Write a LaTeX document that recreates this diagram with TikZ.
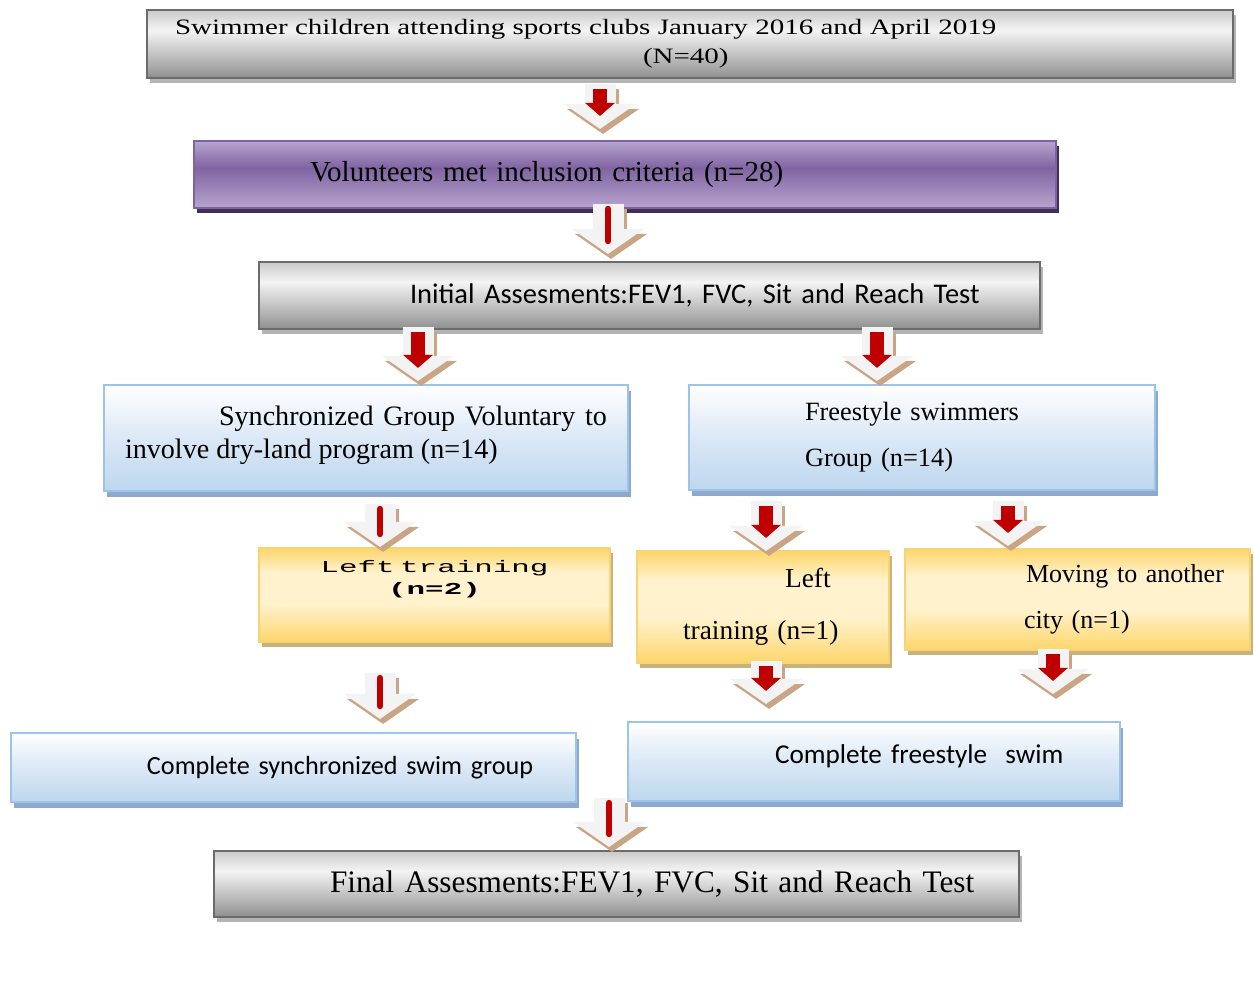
\documentclass[tikz,border=0pt]{standalone}
\usepackage{fontspec}
\setmainfont{Liberation Serif}
\newfontfamily\calibrifont{Carlito}
\newfontfamily\widemono[FakeStretch=1.85]{Liberation Mono}
\newfontfamily\widetimes[FakeStretch=1.32]{Liberation Serif}
\usetikzlibrary{arrows.meta,calc,shadows}
\definecolor{grayEdge}{HTML}{6B6B6B}
\definecolor{grayDrop}{HTML}{B4B4B4}
\definecolor{grayTop}{HTML}{CACACA}
\definecolor{grayMid}{HTML}{F4F4F4}
\definecolor{grayLow}{HTML}{8E8E8E}
\definecolor{purpleEdge}{HTML}{7E62A1}
\definecolor{purpleDrop}{HTML}{3F3151}
\definecolor{purpleLight}{HTML}{B7A5CF}
\definecolor{purpleDark}{HTML}{8064A2}
\definecolor{blueEdge}{HTML}{9DC3E6}
\definecolor{blueDrop}{HTML}{8EA9CF}
\definecolor{blueLow}{HTML}{BDD7EE}
\definecolor{blueMid}{HTML}{DBE8F6}
\definecolor{yellowEdge}{HTML}{F6D475}
\definecolor{yellowDrop}{HTML}{C9B27A}
\definecolor{yellowDeep}{HTML}{FDD56A}
\definecolor{yellowPale}{HTML}{FFF2CC}
\definecolor{arrowRed}{HTML}{C00000}
\definecolor{arrowTan}{HTML}{C9A585}
\definecolor{arrowWhite}{HTML}{F3F3F3}
\pgfdeclareverticalshading{grayShade}{100bp}{color(0bp)=(grayLow); color(25bp)=(grayLow); color(32bp)=(grayLow!80!white); color(60bp)=(grayMid); color(75bp)=(grayTop); color(100bp)=(grayTop)}
\pgfdeclareverticalshading{purpleShade}{100bp}{color(0bp)=(purpleLight); color(25bp)=(purpleLight); color(55bp)=(purpleDark); color(75bp)=(purpleLight); color(100bp)=(purpleLight)}
\pgfdeclareverticalshading{blueShade}{100bp}{color(0bp)=(blueLow); color(25bp)=(blueLow); color(50bp)=(blueMid); color(75bp)=(white); color(100bp)=(white)}
\pgfdeclareverticalshading{yellowShade}{100bp}{color(0bp)=(yellowDeep); color(25bp)=(yellowDeep); color(45bp)=(yellowPale); color(62bp)=(yellowPale); color(75bp)=(yellowDeep); color(100bp)=(yellowDeep)}
\tikzset{
  gray box/.style={draw=grayEdge,line width=1.2pt,shade,shading=grayShade,drop shadow={shadow xshift=0.06cm,shadow yshift=-0.1cm,fill=grayDrop,opacity=1},inner sep=0pt,align=left},
  purple box/.style={draw=purpleEdge,line width=1.2pt,shade,shading=purpleShade,drop shadow={shadow xshift=0.06cm,shadow yshift=-0.1cm,fill=purpleDrop,opacity=1},inner sep=0pt,align=left},
  blue box/.style={draw=blueEdge,line width=1.2pt,shade,shading=blueShade,drop shadow={shadow xshift=0.06cm,shadow yshift=-0.12cm,fill=blueDrop,opacity=1},inner sep=0pt,align=left},
  yellow box/.style={draw=yellowEdge,line width=1.2pt,shade,shading=yellowShade,drop shadow={shadow xshift=0.06cm,shadow yshift=-0.1cm,fill=yellowDrop,opacity=1},inner sep=0pt,align=left},
  flow shadow/.style={line width=0.62cm,draw=arrowTan,-{Triangle[length=0.5cm,width=1.42cm]}},
  flow body/.style={line width=0.62cm,draw=arrowWhite,-{Triangle[length=0.5cm,width=1.42cm]}},
  flow core/.style={line width=0.28cm,draw=arrowRed,-{Triangle[length=0.26cm,width=0.58cm]}},
  flow bar/.style={line width=0.13cm,draw=arrowRed,line cap=round}
}
% block arrow: tan shadow, white body, red core
\newcommand{\flowarrow}[3][flow core]{%
  \draw[flow shadow] ($(#2)+(0.06,-0.1)$) -- ($(#3)+(0.06,-0.1)$);
  \draw[flow body] (#2) -- (#3);
  \draw[#1] ($(#2)+(0,-0.1)$) -- ($(#3)+(0,0.26)$);
}
\begin{document}
\begin{tikzpicture}
  \useasboundingbox (0,0) rectangle (25.08,-19.74);

  \node[gray box,text width=21.72cm,minimum height=1.36cm,font=\widetimes\fontsize{12.5}{16.4}\selectfont] (top) at (13.8,-0.88)
    {\hspace*{0.56cm}Swimmer children attending sports clubs January 2016 and April 2019\\\hspace*{9.92cm}(N=40)};
  \node[purple box,text width=17.24cm,minimum height=1.34cm,font=\fontsize{16.5}{19}\selectfont] (volunteers) at (12.5,-3.49)
    {\hspace*{2.32cm}Volunteers met inclusion criteria (n=28)};
  \node[gray box,text width=15.62cm,minimum height=1.34cm,font=\calibrifont\fontsize{16.2}{19}\selectfont] (initial) at (12.99,-5.91)
    {\hspace*{3.02cm}Initial Assesments:FEV1, FVC, Sit and Reach Test};

  \node[blue box,text width=9.64cm,inner xsep=0.42cm,minimum height=2.12cm,align=justify,font=\fontsize{16}{18.7}\selectfont] (sync) at (7.32,-8.76)
    {\hspace*{1.88cm}Synchronized Group Voluntary to\linebreak involve dry-land program (n=14)\\[-0.42cm]\mbox{}};
  \node[blue box,text width=9.32cm,minimum height=2.10cm,font=\fontsize{15}{17}\selectfont] (free) at (18.44,-8.75)
    {\hspace*{2.32cm}Freestyle swimmers\\[0.32cm]\hspace*{2.32cm}Group (n=14)};

  \node[yellow box,text width=7.02cm,minimum height=1.88cm,align=center,font=\widemono\fontsize{9.5}{12.5}\selectfont] (leftsync) at (8.69,-11.9)
    {Left training\\\textbf{(n=2)}\\[0.28cm]\mbox{}};
  \node[yellow box,text width=5.04cm,minimum height=2.24cm,font=\fontsize{15.6}{17}\selectfont] (leftfree) at (15.26,-12.14)
    {\hspace*{2.96cm}Left\\[0.44cm]\hspace*{0.92cm}training (n=1)};
  \node[yellow box,text width=6.9cm,minimum height=2.02cm,font=\fontsize{14.8}{17}\selectfont] (moving) at (21.55,-11.99)
    {\hspace*{2.42cm}Moving to another\\[0.32cm]\hspace*{2.38cm}city (n=1)};

  \node[blue box,text width=11.3cm,minimum height=1.38cm,font=\calibrifont\fontsize{14.9}{17}\selectfont] (donesync) at (5.87,-15.35)
    {\hspace*{2.72cm}Complete synchronized swim group};
  \node[blue box,text width=9.84cm,minimum height=1.58cm,font=\calibrifont\fontsize{15.5}{17}\selectfont] (donefree) at (17.48,-15.23)
    {\hspace*{2.94cm}Complete freestyle\ \ swim\\[-0.28cm]\mbox{}};

  \node[gray box,text width=16.1cm,minimum height=1.32cm,font=\fontsize{17.8}{20}\selectfont] (final) at (12.33,-17.68)
    {\hspace*{2.32cm}Final Assesments:FEV1, FVC, Sit and Reach Test};

  % arrow ends
  \coordinate (a1s) at ($(12,0 |- top.south)+(0,-0.1)$);
  \coordinate (a1e) at ($(12,0 |- volunteers.north)+(0,0.22)$);
  \coordinate (a2s) at ($(12.16,0 |- volunteers.south)+(0,0.1)$);
  \coordinate (a2e) at ($(12.16,0 |- initial.north)+(0,0.14)$);
  \coordinate (a3s) at ($(8.36,0 |- initial.south)+(0,0.06)$);
  \coordinate (a3e) at ($(8.36,0 |- sync.north)+(0,0.06)$);
  \coordinate (a4s) at ($(17.54,0 |- initial.south)+(0,0.06)$);
  \coordinate (a4e) at ($(17.54,0 |- free.north)+(0,0.06)$);
  \coordinate (a5s) at ($(7.6,0 |- sync.south)+(0,-0.24)$);
  \coordinate (a5e) at (7.6,0 |- leftsync.north);
  \coordinate (a6s) at ($(15.32,0 |- free.south)+(0,-0.2)$);
  \coordinate (a6e) at ($(15.32,0 |- leftfree.north)+(0,-0.02)$);
  \coordinate (a7s) at ($(20.16,0 |- free.south)+(0,-0.2)$);
  \coordinate (a7e) at ($(20.16,0 |- moving.north)+(0,0.04)$);
  \coordinate (a8s) at ($(7.6,0 |- leftsync.south)+(0,-0.6)$);
  \coordinate (a8e) at ($(7.6,0 |- donesync.north)+(0,0.26)$);
  \coordinate (a9s) at ($(15.32,0 |- leftfree.south)+(0,0.06)$);
  \coordinate (a9e) at ($(15.32,0 |- donefree.north)+(0,0.34)$);
  \coordinate (a10s) at ($(21.06,0 |- moving.south)+(0,0.04)$);
  \coordinate (a10e) at ($(21.06,0 |- donefree.north)+(0,0.54)$);
  \coordinate (a11s) at ($(12.18,0 |- donefree.south)+(0,0.08)$);
  \coordinate (a11e) at ($(12.18,0 |- final.north)+(0,0.06)$);

  \flowarrow{a1s}{a1e}
  \flowarrow[flow bar]{a2s}{a2e}
  \flowarrow{a3s}{a3e}
  \flowarrow{a4s}{a4e}
  \flowarrow[flow bar]{a5s}{a5e}
  \flowarrow{a6s}{a6e}
  \flowarrow{a7s}{a7e}
  \flowarrow[flow bar]{a8s}{a8e}
  \flowarrow{a9s}{a9e}
  \flowarrow{a10s}{a10e}
  \flowarrow[flow bar]{a11s}{a11e}
\end{tikzpicture}
\end{document}
